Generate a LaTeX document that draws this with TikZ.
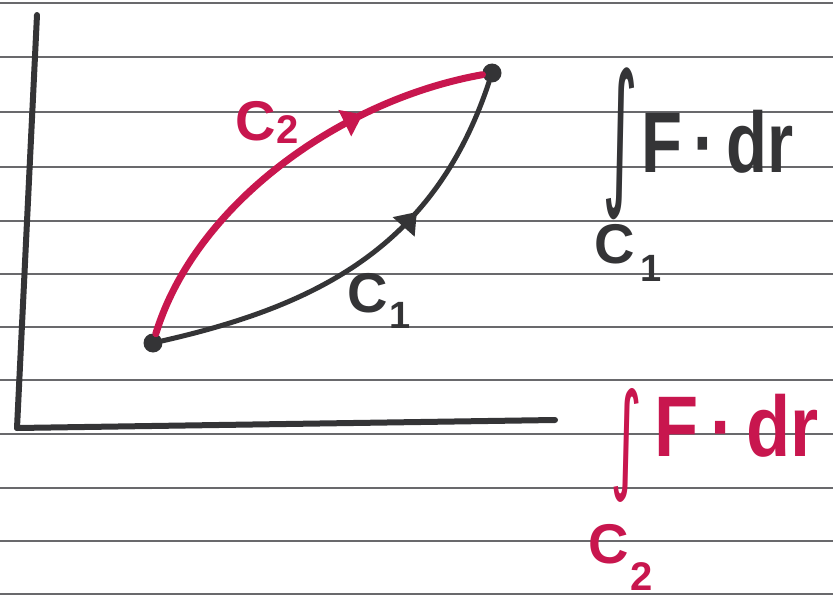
\documentclass[tikz,border=0pt]{standalone}
\usepackage{fontspec}
\setmainfont{Liberation Sans}
\newfontfamily\symfont{DejaVu Sans}
\usetikzlibrary{arrows.meta,decorations.markings}
\definecolor{pen}{RGB}{52,52,54}
\definecolor{redpen}{RGB}{200,22,78}
\definecolor{ruleline}{RGB}{105,105,108}
\tikzset{
  ruled/.style={ruleline, line width=1.3pt},
  axis/.style={pen, line width=6pt, line cap=round},
  blackcurve/.style={pen, line width=5pt, line cap=round},
  redcurve/.style={redpen, line width=7pt, line cap=round},
  dot/.style={circle, fill=pen, inner sep=0pt, minimum size=19pt},
  midarrow/.style 2 args={postaction={decorate,decoration={markings,
      mark=at position #1 with {\arrow[#2]{Triangle[length=20pt,width=28pt]}}}}},
  curvelabel/.style={font=\fontsize{56}{56}\selectfont\bfseries, inner sep=0pt, anchor=base west},
  fdr/.style={font=\fontsize{86}{86}\selectfont\bfseries, inner sep=0pt, anchor=base west},
  intsign/.style={inner sep=0pt},
}
\begin{document}
\begin{tikzpicture}[x=1pt,y=-1pt]
\useasboundingbox (0,0) rectangle (833,602);
\fill[white] (0,0) rectangle (833,602);
% ruled paper
\foreach \yy in {3,57,112,167,221,274,327,380,434,488,541,594}
  \draw[ruled] (0,\yy) -- (833,\yy);
% axes
\coordinate (yTop) at (37,15);
\coordinate (O) at (17,428);
\coordinate (xEnd) at (555,420);
\draw[axis] (yTop) -- (O);
\draw[axis] (O) -- (xEnd);
% end points
\node[dot] (A) at (153,343) {};
\node[dot] (B) at (492,73) {};
% curves
\draw[blackcurve, midarrow={0.66}{pen}] (A) .. controls (320,305) and (435,245) .. (B);
\draw[redcurve, midarrow={0.71}{redpen}] (A) .. controls (195,205) and (340,100) .. (B);
% curve labels
\node[curvelabel, text=redpen] (lc2) at (235,140) {C\hspace{1pt}\raisebox{-3pt}{\fontsize{40}{40}\selectfont 2}};
\node[curvelabel, text=pen] (lc1) at (347,312) {C\hspace{2pt}\raisebox{-16pt}{\fontsize{38}{38}\selectfont 1}};
% integral over C1
\node[intsign, text=pen] (int1) at (621,144) {\resizebox*{36pt}{152pt}{\symfont ∫}};
\node[fdr, text=pen] (f1) at (641,172) {\scalebox{0.78}[1]{F\,·\,dr}};
\node[curvelabel, text=pen] (c1) at (594,263) {C\hspace{6pt}\raisebox{-18pt}{\fontsize{38}{38}\selectfont 1}};
% integral over C2
\node[intsign, text=redpen] (int2) at (627,445) {\resizebox*{32pt}{114pt}{\symfont ∫}};
\node[fdr, text=redpen] (f2) at (654,456) {\scalebox{0.84}[1]{F\,·\,dr}};
\node[curvelabel, text=redpen] (c2) at (588,563) {C\hspace{2pt}\raisebox{-27pt}{\fontsize{40}{40}\selectfont 2}};
\end{tikzpicture}
\end{document}
